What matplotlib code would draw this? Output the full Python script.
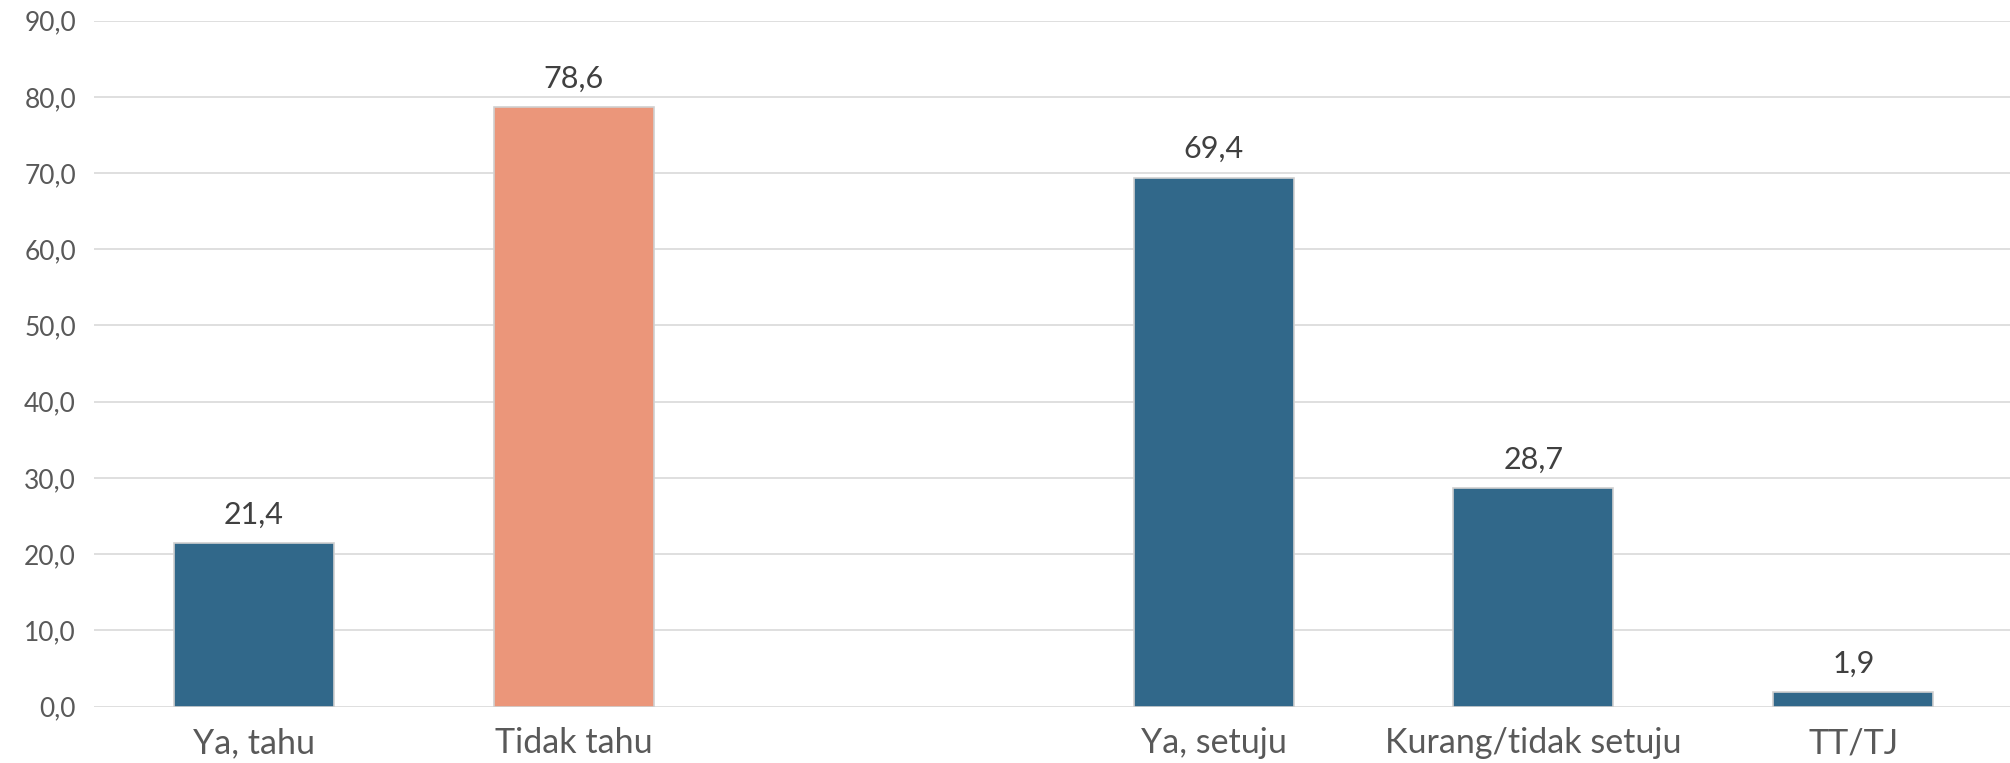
import matplotlib
matplotlib.use('Agg')
import matplotlib.pyplot as plt

# chart data (the third slot is an empty gap between the two groups)
categories = ["Ya, tahu", "Tidak tahu", "", "Ya, setuju", "Kurang/tidak setuju", "TT/TJ"]
values = [21.4, 78.6, None, 69.4, 28.7, 1.9]
bar_colors = ["#31688A", "#EB967A", None, "#31688A", "#31688A", "#31688A"]
y_ticks = [0, 10, 20, 30, 40, 50, 60, 70, 80, 90]

plt.rcParams['font.family'] = ['Lato', 'DejaVu Sans']

fig = plt.figure(figsize=(20.10, 7.63), dpi=100)
ax = fig.add_axes([0.0468, 0.074, 0.9532, 0.899])

xs = list(range(len(categories)))
for x, v, c in zip(xs, values, bar_colors):
    if v is None:
        continue
    ax.bar(x, v, width=0.5, color=c, edgecolor="#d0d0d0", linewidth=1.2, zorder=3)
    ax.text(x, v + 1.9, f"{v:.1f}".replace(".", ","), ha="center", va="bottom",
            fontsize=22, color="#404040")

ax.set_xlim(-0.5, 5.49)
ax.set_ylim(0, 90)
ax.set_yticks(y_ticks)
ax.set_yticklabels([f"{t:.1f}".replace(".", ",") for t in y_ticks], fontsize=19, color="#595959")
ax.set_xticks(xs)
ax.set_xticklabels(categories, fontsize=24.5, color="#595959")
ax.tick_params(axis="both", length=0)
ax.tick_params(axis="x", pad=15)
ax.tick_params(axis="y", pad=13)

ax.grid(axis="y", color="#d9d9d9", linewidth=1.2, zorder=0)
for s in ax.spines.values():
    s.set_visible(False)

fig.savefig("out.png", dpi=100)
